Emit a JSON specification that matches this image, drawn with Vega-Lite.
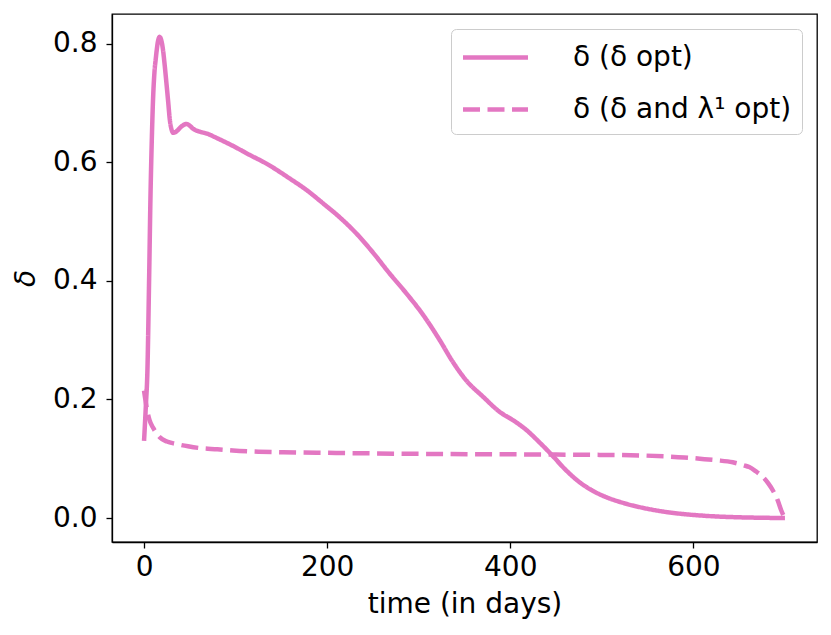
{
  "$schema": "https://vega.github.io/schema/vega-lite/v6.json",
  "width": 705,
  "height": 528,
  "autosize": "none",
  "padding": {"left": 112, "top": 14, "right": 14, "bottom": 93},
  "background": "#ffffff",
  "config": {
    "font": "DejaVu Sans",
    "view": {"stroke": "#000000", "strokeWidth": 1.3},
    "axis": {
      "domainColor": "#000000",
      "domainWidth": 1.3,
      "tickColor": "#000000",
      "tickWidth": 1.3,
      "tickSize": 6,
      "grid": false,
      "labelFont": "DejaVu Sans",
      "labelFontSize": 28,
      "labelColor": "#000000",
      "titleFont": "DejaVu Sans",
      "titleFontSize": 28,
      "titleFontWeight": "normal",
      "titleColor": "#000000"
    },
    "legend": {
      "orient": "top-right",
      "offset": 15,
      "fillColor": "#ffffff",
      "strokeColor": "#cccccc",
      "strokeWidth": 1,
      "cornerRadius": 5,
      "padding": 10,
      "rowPadding": 19,
      "symbolType": "M-2,0H2",
      "symbolSize": 1056,
      "symbolOffset": 16,
      "symbolStrokeWidth": 4.5,
      "labelFont": "DejaVu Sans",
      "labelFontSize": 28,
      "labelColor": "#000000",
      "labelOffset": 59,
      "labelLimit": 400
    }
  },
  "data": {
    "values": [
      {"series": "δ (δ opt)", "t": 0, "delta": 0.13},
      {"series": "δ (δ opt)", "t": 2, "delta": 0.19},
      {"series": "δ (δ opt)", "t": 3.7, "delta": 0.25},
      {"series": "δ (δ opt)", "t": 5.5, "delta": 0.4},
      {"series": "δ (δ opt)", "t": 7, "delta": 0.54},
      {"series": "δ (δ opt)", "t": 8.5, "delta": 0.64},
      {"series": "δ (δ opt)", "t": 9.8, "delta": 0.705},
      {"series": "δ (δ opt)", "t": 11.5, "delta": 0.755},
      {"series": "δ (δ opt)", "t": 12.8, "delta": 0.775},
      {"series": "δ (δ opt)", "t": 15.3, "delta": 0.805},
      {"series": "δ (δ opt)", "t": 17, "delta": 0.812},
      {"series": "δ (δ opt)", "t": 18.5, "delta": 0.808},
      {"series": "δ (δ opt)", "t": 20.7, "delta": 0.79},
      {"series": "δ (δ opt)", "t": 22.5, "delta": 0.765},
      {"series": "δ (δ opt)", "t": 24.5, "delta": 0.733},
      {"series": "δ (δ opt)", "t": 26.5, "delta": 0.7},
      {"series": "δ (δ opt)", "t": 28, "delta": 0.674},
      {"series": "δ (δ opt)", "t": 30, "delta": 0.656},
      {"series": "δ (δ opt)", "t": 31.7, "delta": 0.65},
      {"series": "δ (δ opt)", "t": 34, "delta": 0.651},
      {"series": "δ (δ opt)", "t": 36.5, "delta": 0.654},
      {"series": "δ (δ opt)", "t": 39, "delta": 0.658},
      {"series": "δ (δ opt)", "t": 42, "delta": 0.662},
      {"series": "δ (δ opt)", "t": 46.3, "delta": 0.665},
      {"series": "δ (δ opt)", "t": 50, "delta": 0.662},
      {"series": "δ (δ opt)", "t": 53.5, "delta": 0.657},
      {"series": "δ (δ opt)", "t": 57, "delta": 0.654},
      {"series": "δ (δ opt)", "t": 60.8, "delta": 0.652},
      {"series": "δ (δ opt)", "t": 70, "delta": 0.648},
      {"series": "δ (δ opt)", "t": 77, "delta": 0.643},
      {"series": "δ (δ opt)", "t": 97, "delta": 0.628},
      {"series": "δ (δ opt)", "t": 115, "delta": 0.613},
      {"series": "δ (δ opt)", "t": 133.7, "delta": 0.598},
      {"series": "δ (δ opt)", "t": 159, "delta": 0.573},
      {"series": "δ (δ opt)", "t": 177, "delta": 0.554},
      {"series": "δ (δ opt)", "t": 195.5, "delta": 0.531},
      {"series": "δ (δ opt)", "t": 214, "delta": 0.507},
      {"series": "δ (δ opt)", "t": 232, "delta": 0.48},
      {"series": "δ (δ opt)", "t": 250, "delta": 0.448},
      {"series": "δ (δ opt)", "t": 268, "delta": 0.413},
      {"series": "δ (δ opt)", "t": 286, "delta": 0.38},
      {"series": "δ (δ opt)", "t": 304.7, "delta": 0.343},
      {"series": "δ (δ opt)", "t": 323, "delta": 0.3},
      {"series": "δ (δ opt)", "t": 337, "delta": 0.264},
      {"series": "δ (δ opt)", "t": 352, "delta": 0.232},
      {"series": "δ (δ opt)", "t": 370, "delta": 0.205},
      {"series": "δ (δ opt)", "t": 388.5, "delta": 0.179},
      {"series": "δ (δ opt)", "t": 405, "delta": 0.163},
      {"series": "δ (δ opt)", "t": 418, "delta": 0.148},
      {"series": "δ (δ opt)", "t": 431, "delta": 0.129},
      {"series": "δ (δ opt)", "t": 445, "delta": 0.107},
      {"series": "δ (δ opt)", "t": 460, "delta": 0.082},
      {"series": "δ (δ opt)", "t": 476, "delta": 0.06},
      {"series": "δ (δ opt)", "t": 490, "delta": 0.046},
      {"series": "δ (δ opt)", "t": 505, "delta": 0.035},
      {"series": "δ (δ opt)", "t": 520, "delta": 0.027},
      {"series": "δ (δ opt)", "t": 534, "delta": 0.021},
      {"series": "δ (δ opt)", "t": 550, "delta": 0.0155},
      {"series": "δ (δ opt)", "t": 570, "delta": 0.0102},
      {"series": "δ (δ opt)", "t": 590, "delta": 0.0065},
      {"series": "δ (δ opt)", "t": 607, "delta": 0.0043},
      {"series": "δ (δ opt)", "t": 625, "delta": 0.0026},
      {"series": "δ (δ opt)", "t": 643, "delta": 0.0015},
      {"series": "δ (δ opt)", "t": 670, "delta": 0.0005},
      {"series": "δ (δ opt)", "t": 700, "delta": 0.0},
      {"series": "δ (δ and λ¹ opt)", "t": 0, "delta": 0.215},
      {"series": "δ (δ and λ¹ opt)", "t": 3, "delta": 0.185},
      {"series": "δ (δ and λ¹ opt)", "t": 6, "delta": 0.165},
      {"series": "δ (δ and λ¹ opt)", "t": 10, "delta": 0.152},
      {"series": "δ (δ and λ¹ opt)", "t": 17, "delta": 0.1365},
      {"series": "δ (δ and λ¹ opt)", "t": 25, "delta": 0.129},
      {"series": "δ (δ and λ¹ opt)", "t": 35, "delta": 0.125},
      {"series": "δ (δ and λ¹ opt)", "t": 48, "delta": 0.121},
      {"series": "δ (δ and λ¹ opt)", "t": 61, "delta": 0.118},
      {"series": "δ (δ and λ¹ opt)", "t": 80, "delta": 0.116},
      {"series": "δ (δ and λ¹ opt)", "t": 97, "delta": 0.114},
      {"series": "δ (δ and λ¹ opt)", "t": 125, "delta": 0.112},
      {"series": "δ (δ and λ¹ opt)", "t": 152, "delta": 0.111},
      {"series": "δ (δ and λ¹ opt)", "t": 200, "delta": 0.11},
      {"series": "δ (δ and λ¹ opt)", "t": 250, "delta": 0.109},
      {"series": "δ (δ and λ¹ opt)", "t": 323, "delta": 0.108},
      {"series": "δ (δ and λ¹ opt)", "t": 400, "delta": 0.1075},
      {"series": "δ (δ and λ¹ opt)", "t": 450, "delta": 0.107},
      {"series": "δ (δ and λ¹ opt)", "t": 497.5, "delta": 0.1065},
      {"series": "δ (δ and λ¹ opt)", "t": 541, "delta": 0.1056},
      {"series": "δ (δ and λ¹ opt)", "t": 570, "delta": 0.104},
      {"series": "δ (δ and λ¹ opt)", "t": 590, "delta": 0.1022},
      {"series": "δ (δ and λ¹ opt)", "t": 607, "delta": 0.1},
      {"series": "δ (δ and λ¹ opt)", "t": 625, "delta": 0.0975},
      {"series": "δ (δ and λ¹ opt)", "t": 643, "delta": 0.094},
      {"series": "δ (δ and λ¹ opt)", "t": 655, "delta": 0.089},
      {"series": "δ (δ and λ¹ opt)", "t": 661, "delta": 0.086},
      {"series": "δ (δ and λ¹ opt)", "t": 668, "delta": 0.079},
      {"series": "δ (δ and λ¹ opt)", "t": 676, "delta": 0.069},
      {"series": "δ (δ and λ¹ opt)", "t": 682, "delta": 0.058},
      {"series": "δ (δ and λ¹ opt)", "t": 687, "delta": 0.046},
      {"series": "δ (δ and λ¹ opt)", "t": 692, "delta": 0.03},
      {"series": "δ (δ and λ¹ opt)", "t": 696, "delta": 0.0127},
      {"series": "δ (δ and λ¹ opt)", "t": 699, "delta": 0.002}
    ]
  },
  "mark": {"type": "line", "strokeWidth": 4.5, "interpolate": "monotone", "clip": true},
  "encoding": {
    "x": {
      "field": "t",
      "type": "quantitative",
      "scale": {"domain": [-35, 735], "nice": false, "zero": false},
      "axis": {
        "title": "time (in days)",
        "values": [0, 200, 400, 600],
        "format": "d",
        "labelPadding": 5,
        "titleBaseline": "alphabetic",
        "titleY": 70
      }
    },
    "y": {
      "field": "delta",
      "type": "quantitative",
      "scale": {"domain": [-0.0405, 0.8505], "nice": false, "zero": false},
      "axis": {
        "title": "δ",
        "titleFontStyle": "italic",
        "values": [0, 0.2, 0.4, 0.6, 0.8],
        "format": ".1f",
        "labelPadding": 9,
        "titleAngle": -90,
        "titleX": -86,
        "titleY": 264,
        "titleAlign": "center",
        "titleBaseline": "middle"
      }
    },
    "color": {
      "field": "series",
      "type": "nominal",
      "scale": {"domain": ["δ (δ opt)", "δ (δ and λ¹ opt)"], "range": ["#e377c2", "#e377c2"]},
      "legend": {"title": null}
    },
    "strokeDash": {
      "field": "series",
      "type": "nominal",
      "scale": {"domain": ["δ (δ opt)", "δ (δ and λ¹ opt)"], "range": [[1, 0], [17, 7.5]]},
      "legend": {"title": null}
    }
  }
}
